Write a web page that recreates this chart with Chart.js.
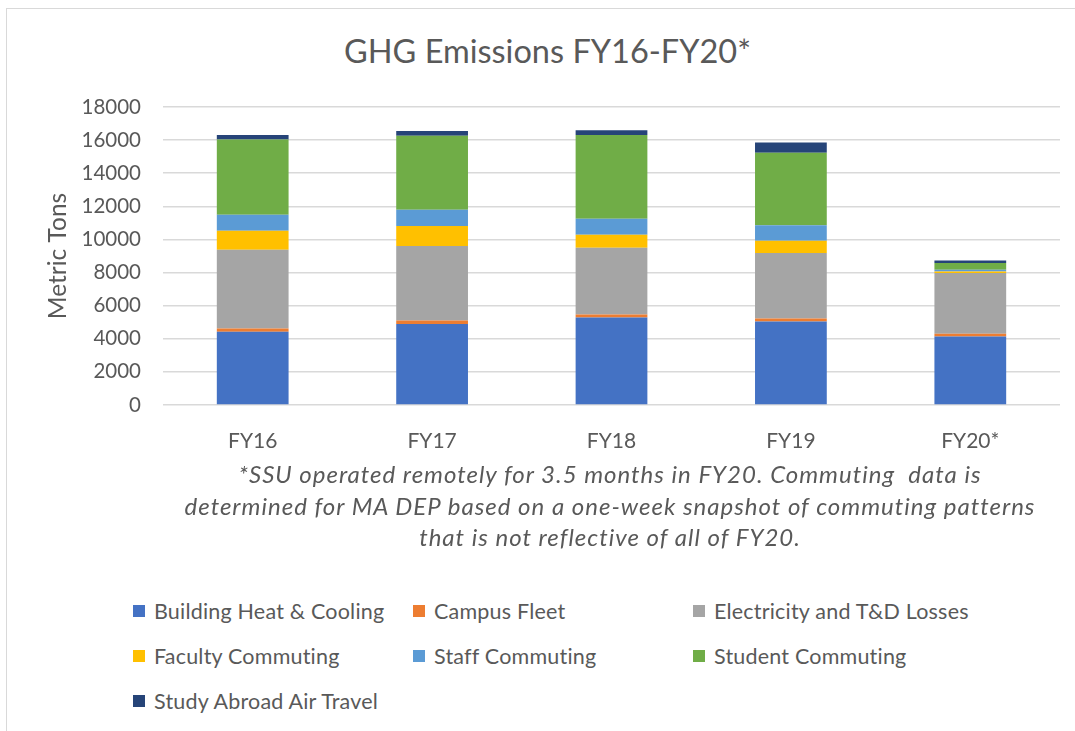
<!DOCTYPE html>
<html>
<head>
<meta charset="utf-8">
<script src="https://cdn.jsdelivr.net/npm/chart.js@4"></script>
<style>
  html, body { margin: 0; padding: 0; background: #fff; overflow: hidden; }
  body { width: 1075px; height: 731px; position: relative; font-family: Lato, "Open Sans", sans-serif; color: #595959; }
  #frame { position: absolute; left: 6px; top: 8px; width: 1200px; height: 900px; border: 1.5px solid #d9d9d9; box-sizing: border-box; }
  #title { position: absolute; left: 0; width: 1095px; top: 31px; text-align: center; font-size: 32.5px; }
  #chartBox { position: absolute; left: 0; top: 0; }
  #note { position: absolute; left: 160px; width: 900px; top: 458px; text-align: center; font-style: italic; font-size: 24px; letter-spacing: 1px; line-height: 31.5px; white-space: pre; }
  #legend { position: absolute; left: 133px; top: 597px; display: grid; grid-template-columns: 280px 280px 280px; row-gap: 18px; font-size: 21.5px; letter-spacing: 0.2px; }
  .item { display: flex; align-items: center; height: 27px; }
  .swatch { width: 12px; height: 12px; margin-right: 9px; }
</style>
</head>
<body>
<div id="frame"></div>
<div id="title">GHG Emissions FY16-FY20*</div>
<div id="chartBox"><canvas id="ghgChart" width="1075" height="460"></canvas></div>
<div id="note">*SSU operated remotely for 3.5 months in FY20. Commuting  data is
determined for MA DEP based on a one-week snapshot of commuting patterns
that is not reflective of all of FY20.</div>
<div id="legend"></div>
<script>
// Emissions by source, metric tons CO2e
const categories = ["FY16", "FY17", "FY18", "FY19", "FY20*"];
const buildingHeat = [4420, 4900, 5280, 5040, 4140];
const campusFleet = [200, 200, 180, 180, 160];
const electricity = [4760, 4500, 4040, 3960, 3670];
const facultyCommuting = [1145, 1205, 785, 745, 100];
const staffCommuting = [965, 985, 965, 925, 100];
const studentCommuting = [4540, 4480, 5060, 4380, 400];
const studyAbroad = [280, 280, 280, 620, 160];
const yTicks = [0, 2000, 4000, 6000, 8000, 10000, 12000, 14000, 16000, 18000];

const series = [
    { label: "Building Heat & Cooling", data: buildingHeat, color: "#4472C4" },
    { label: "Campus Fleet", data: campusFleet, color: "#ED7D31" },
    { label: "Electricity and T&D Losses", data: electricity, color: "#A5A5A5" },
    { label: "Faculty Commuting", data: facultyCommuting, color: "#FFC000" },
    { label: "Staff Commuting", data: staffCommuting, color: "#5B9BD5" },
    { label: "Student Commuting", data: studentCommuting, color: "#70AD47" },
    { label: "Study Abroad Air Travel", data: studyAbroad, color: "#264478" }
];

const ctx = document.getElementById("ghgChart").getContext("2d");
const chart = new Chart(ctx, {
    type: "bar",
    data: {
        labels: categories,
        datasets: series.map(s => ({
            label: s.label,
            data: s.data,
            backgroundColor: s.color,
            borderWidth: 0,
            barPercentage: 0.4,
            categoryPercentage: 1
        }))
    },
    options: {
        responsive: false,
        animation: false,
        layout: { padding: { top: 107, left: 0, right: 15, bottom: 0 } },
        plugins: {
            legend: { display: false },
            tooltip: { enabled: false }
        },
        scales: {
            x: {
                stacked: true,
                grid: { display: false },
                border: { display: false },
                ticks: { color: "#595959", font: { family: "Lato", size: 21 }, padding: 16 },
                afterFit: scale => { scale.height = 55; }
            },
            y: {
                stacked: true,
                min: 0,
                max: 18000,
                afterBuildTicks: scale => { scale.ticks = yTicks.map(v => ({ value: v })); },
                grid: { color: "#d9d9d9", lineWidth: 1.5, drawTicks: false },
                border: { display: false },
                ticks: {
                    color: "#595959",
                    font: { family: "Lato", size: 20.5 },
                    padding: 22,
                    callback: v => String(v)
                },
                title: {
                    display: true,
                    text: "Metric Tons",
                    color: "#595959",
                    font: { family: "Lato", size: 24.5, weight: "normal" },
                    padding: { top: 43, bottom: 0 }
                },
                afterFit: scale => { scale.width = 163; }
            }
        }
    }
});

// legend built from the chart's own datasets
const legendEl = document.getElementById("legend");
chart.data.datasets.forEach(ds => {
    const item = document.createElement("div");
    item.className = "item";
    const sw = document.createElement("span");
    sw.className = "swatch";
    sw.style.background = ds.backgroundColor;
    const txt = document.createElement("span");
    txt.textContent = ds.label;
    item.appendChild(sw);
    item.appendChild(txt);
    legendEl.appendChild(item);
});
</script>
</body>
</html>
